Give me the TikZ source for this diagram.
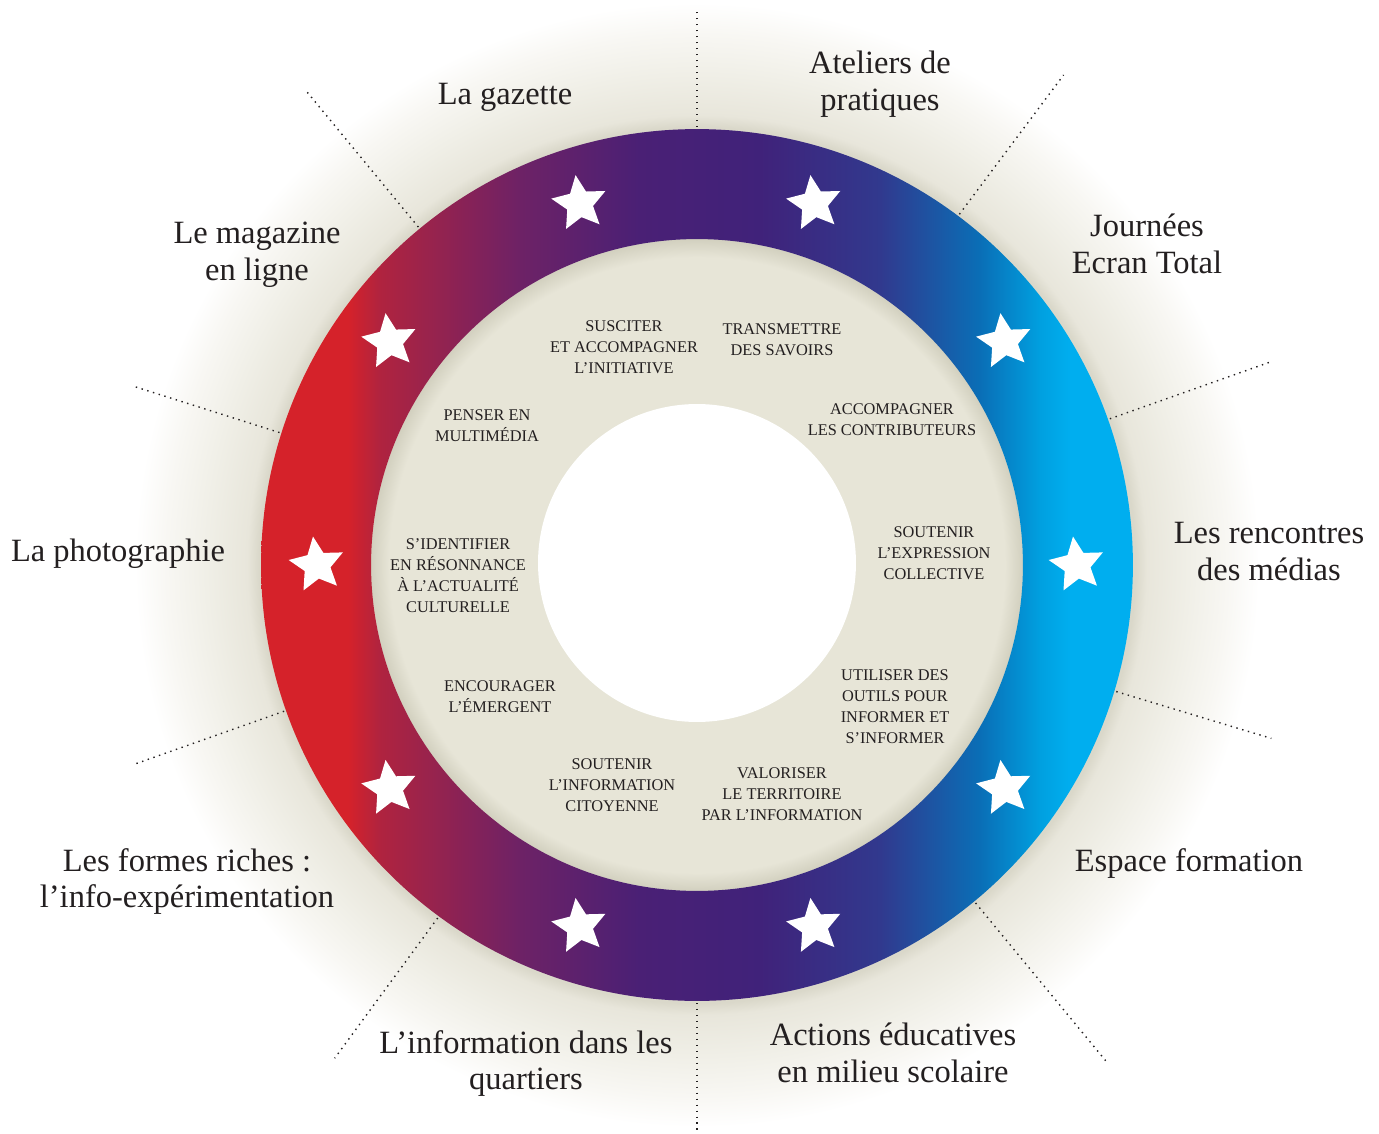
\documentclass[tikz,border=0pt]{standalone}
\usepackage{fontspec}
\setmainfont{Liberation Serif}
\usetikzlibrary{shapes}

\definecolor{ringred}{HTML}{D5222A}
\definecolor{ringcrim}{HTML}{B0233F}
\definecolor{ringplum}{HTML}{6D2266}
\definecolor{ringviolet}{HTML}{4A2075}
\definecolor{ringindigo}{HTML}{40227A}
\definecolor{ringnavy}{HTML}{31398E}
\definecolor{ringblue}{HTML}{0A6EB6}
\definecolor{ringsky}{HTML}{00A0E0}
\definecolor{ringcyan}{HTML}{00AEEF}
\definecolor{glowc}{HTML}{DAD8CA}
\definecolor{glowm}{HTML}{E8E6DB}
\definecolor{glowl}{HTML}{F0EFE7}
\definecolor{glowf}{HTML}{F8F7F3}
\definecolor{diskc}{HTML}{E7E5D7}
\definecolor{diskd}{HTML}{D2D0BF}
\definecolor{textc}{HTML}{231F20}

\pgfdeclarehorizontalshading{ringshade}{100bp}{color(0bp)=(ringred); color(30bp)=(ringred);
  color(31.8bp)=(ringcrim); color(39.9bp)=(ringplum); color(46.7bp)=(ringviolet);
  color(53.6bp)=(ringindigo); color(60.5bp)=(ringnavy); color(66.2bp)=(ringblue);
  color(69.7bp)=(ringsky); color(71.4bp)=(ringcyan); color(100bp)=(ringcyan)}
\pgfdeclareradialshading{glowshade}{\pgfpoint{0bp}{0bp}}{color(0bp)=(glowc); color(16.6bp)=(glowc);
  color(17.05bp)=(glowm); color(18.6bp)=(glowl); color(20.1bp)=(glowf); color(21.3bp)=(white);
  color(50bp)=(white)}
\pgfdeclareradialshading{diskshade}{\pgfpoint{0bp}{0bp}}{color(0bp)=(diskc); color(23.6bp)=(diskc);
  color(25bp)=(diskd); color(50bp)=(diskd)}

\begin{document}
\begin{tikzpicture}[x=0.02cm, y=0.02cm]
\clip (-697,-568) rectangle (682,565);
\fill[white] (-697,-568) rectangle (682,565);

% fond, disque et anneau
\shade[shading=glowshade] (0,0) circle (13.2cm);
\shade[shading=diskshade] (0,0) circle (6.52cm);
\fill[white] (0,2) circle (3.18cm);
\shade[shading=ringshade, even odd rule] (0,0) circle (8.72cm) (0,0) circle (6.52cm);

% rayons pointilles
\tikzstyle{guide}=[dash pattern=on 0.8pt off 2.6pt, line width=0.8pt, textc]
\foreach \a/\r [count=\i] in {19.5/608, 53.2/612, 90/555, 129.5/615, 162.4/592,
    199.5/598, 233.7/612, 270/570, 309.5/646, 343.2/600} {
  \coordinate (s\i) at (\a:438);
  \coordinate (e\i) at (\a:\r);
  \draw[guide] (s\i) -- (e\i);
}

% etoiles
\tikzstyle{starmark}=[star, star points=5, star point ratio=2.1, minimum size=1.15cm,
  inner sep=0pt, fill=white, shape border rotate=8]
\foreach \a in {0,36,...,324}
  \node[starmark] (star\a) at (\a:380) {};

\begin{scope}
\tikzstyle{every node}=[align=center, inner sep=0pt, text=textc,
  font=\fontsize{18.5}{21}\selectfont];
\draw (-192,468) node (gazette) {La gazette};
\draw (183,480.5) node (ateliers) {Ateliers de\\pratiques};
\draw (450,321) node (journees) {Journées\\Ecran Total};
\draw (572,13.5) node (rencontres) {Les rencontres\\des médias};
\draw (492,-299) node (formation) {Espace formation};
\draw (196,-487.5) node (actions) {Actions éducatives\\en milieu scolaire};
\draw (-171,-498.5) node (quartiers) {L'information dans les\\quartiers};
\draw (-510,-316.5) node (formes) {Les formes riches :\\l'info-expérimentation};
\draw (-579,11) node (photo) {La photographie};
\draw (-440,310.5) node (magazine) {Le magazine\\en ligne};
\end{scope}

\begin{scope}
\tikzstyle{every node}=[align=center, inner sep=0pt, text=textc,
  font=\fontsize{9.3}{12}\selectfont];
\draw (-73,218) node (susciter) {SUSCITER\\ET ACCOMPAGNER\\L'INITIATIVE};
\draw (85,225.5) node (transmettre) {TRANSMETTRE\\DES SAVOIRS};
\draw (195,145.5) node (contrib) {ACCOMPAGNER\\LES CONTRIBUTEURS};
\draw (237,12) node (expression) {SOUTENIR\\L'EXPRESSION\\COLLECTIVE};
\draw (198,-141.5) node (outils) {UTILISER DES\\OUTILS POUR\\INFORMER ET\\S'INFORMER};
\draw (85,-229) node (territoire) {VALORISER\\LE TERRITOIRE\\PAR L'INFORMATION};
\draw (-85,-220) node (citoyenne) {SOUTENIR\\L'INFORMATION\\CITOYENNE};
\draw (-197,-131.5) node (emergent) {ENCOURAGER\\L'ÉMERGENT};
\draw (-239,-10.5) node (identifier) {S'IDENTIFIER\\EN RÉSONNANCE\\À L'ACTUALITÉ\\CULTURELLE};
\draw (-210,139.5) node (multimedia) {PENSER EN\\MULTIMÉDIA};
\end{scope}
\end{tikzpicture}
\end{document}
